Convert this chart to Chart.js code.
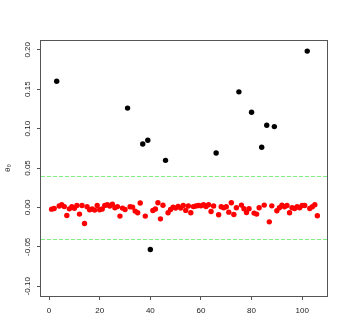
<!DOCTYPE html>
<html>
<head>
<meta charset="utf-8">
<script src="https://cdn.jsdelivr.net/npm/chart.js@4.4.1/dist/chart.umd.min.js"></script>
<style>
  html, body { margin: 0; padding: 0; background: #fff; }
  canvas { display: block; }
</style>
</head>
<body>
<canvas id="theta" width="349" height="322"></canvas>
<script>
// estimated theta_0 per observation (1..106)
const theta = [
  -0.0022, -0.0013, 0.1600, 0.0017, 0.0034, 0.0010, -0.0102, -0.0018, 0.0008, -0.0010,
  0.0025, -0.0085, 0.0025, -0.0204, 0.0008, -0.0030, -0.0020, -0.0034, 0.0025, -0.0030,
  -0.0020, 0.0025, 0.0034, 0.0017, 0.0040, -0.0004, 0.0010, -0.0110, -0.0009, -0.0026,
  0.1260, 0.0008, 0.0004, -0.0047, -0.0068, 0.0055, 0.0805, -0.0110, 0.0852, -0.0534,
  -0.0040, -0.0020, 0.0060, -0.0145, 0.0028, 0.0597, -0.0068, -0.0026, 0.0004, -0.0009,
  0.0013, -0.0009, 0.0025, -0.0038, 0.0017, -0.0068, 0.0010, 0.0017, 0.0025, 0.0020,
  0.0033, 0.0010, 0.0033, -0.0051, 0.0017, 0.0690, -0.0093, 0.0008, -0.0004, 0.0008,
  -0.0060, 0.0059, -0.0090, -0.0004, 0.1466, 0.0029, -0.0017, -0.0064, -0.0017, 0.1207,
  -0.0072, -0.0085, -0.0004, 0.0763, 0.0029, 0.1042, -0.0183, 0.0020, 0.1025, -0.0043,
  -0.0004, 0.0029, 0.0008, 0.0025, -0.0068, -0.0004, -0.0013, 0.0008, -0.0004, 0.0025,
  0.0025, 0.1983, -0.0013, 0.0008, 0.0034, -0.0106
];
const limits = [-0.04, 0.04];
const xTicks = [0, 20, 40, 60, 80, 100];
const yTicks = [-0.10, -0.05, 0.00, 0.05, 0.10, 0.15, 0.20];
const yTitle = "θ₀";

let inside = [];
let outside = [];
theta.forEach((v, i) => {
  const pt = { x: i + 1, y: v };
  if (v > limits[1] || v < limits[0]) outside.push(pt);
  else inside.push(pt);
});

const font = "8px 'Liberation Sans', Arial, sans-serif";

const rStyle = {
  id: "rStyle",
  beforeDatasetsDraw(chart) {
    const { ctx, chartArea: a, scales: { y } } = chart;
    ctx.save();
    ctx.strokeStyle = "#7FEE7F";
    ctx.lineWidth = 1;
    ctx.setLineDash([4, 2]);
    limits.forEach(v => {
      const py = Math.round(y.getPixelForValue(v)) + 0.5;
      ctx.beginPath();
      ctx.moveTo(a.left, py);
      ctx.lineTo(a.right, py);
      ctx.stroke();
    });
    ctx.restore();
  },
  afterDraw(chart) {
    const { ctx, chartArea: a, scales: { x, y } } = chart;
    ctx.save();
    ctx.strokeStyle = "#555";
    ctx.lineWidth = 1;
    ctx.strokeRect(Math.round(a.left) - 0.5, Math.round(a.top) + 0.5,
      Math.round(a.right - a.left), Math.round(a.bottom - a.top));

    ctx.fillStyle = "#222";
    ctx.font = font;
    ctx.textAlign = "center";
    ctx.textBaseline = "middle";
    xTicks.forEach(v => {
      ctx.fillText(String(v), x.getPixelForValue(v), 311);
    });
    yTicks.forEach(v => {
      ctx.save();
      ctx.translate(28, y.getPixelForValue(v));
      ctx.rotate(-Math.PI / 2);
      ctx.fillText(v.toFixed(2), 0, 0);
      ctx.restore();
    });
    ctx.save();
    ctx.translate(8, (a.top + a.bottom) / 2);
    ctx.rotate(-Math.PI / 2);
    ctx.fillText(yTitle, 0, 0);
    ctx.restore();
    ctx.restore();
  }
};

new Chart(document.getElementById("theta"), {
  type: "scatter",
  data: {
    datasets: [
      { data: inside, backgroundColor: "#FF0000", pointRadius: 2.7, borderWidth: 0 },
      { data: outside, backgroundColor: "#000000", pointRadius: 2.7, borderWidth: 0 },
    ],
  },
  options: {
    responsive: false,
    animation: false,
    events: [],
    layout: { padding: { top: 40, right: 21, left: 0, bottom: 0 } },
    plugins: {
      legend: { display: false },
      tooltip: { enabled: false },
    },
    scales: {
      x: {
        type: "linear",
        min: -3.2,
        max: 110.2,
        afterBuildTicks: s => { s.ticks = xTicks.map(v => ({ value: v })); },
        afterFit: s => { s.height = 26; },
        ticks: { display: false },
        grid: { drawOnChartArea: false, drawTicks: true, tickLength: 4, color: "#555" },
        border: { display: false },
      },
      y: {
        min: -0.1124,
        max: 0.2124,
        afterBuildTicks: s => { s.ticks = yTicks.map(v => ({ value: v })); },
        afterFit: s => { s.width = 41; },
        ticks: { display: false },
        grid: { drawOnChartArea: false, drawTicks: true, tickLength: 4, color: "#555" },
        border: { display: false },
      },
    },
  },
  plugins: [rStyle],
});
</script>
</body>
</html>
